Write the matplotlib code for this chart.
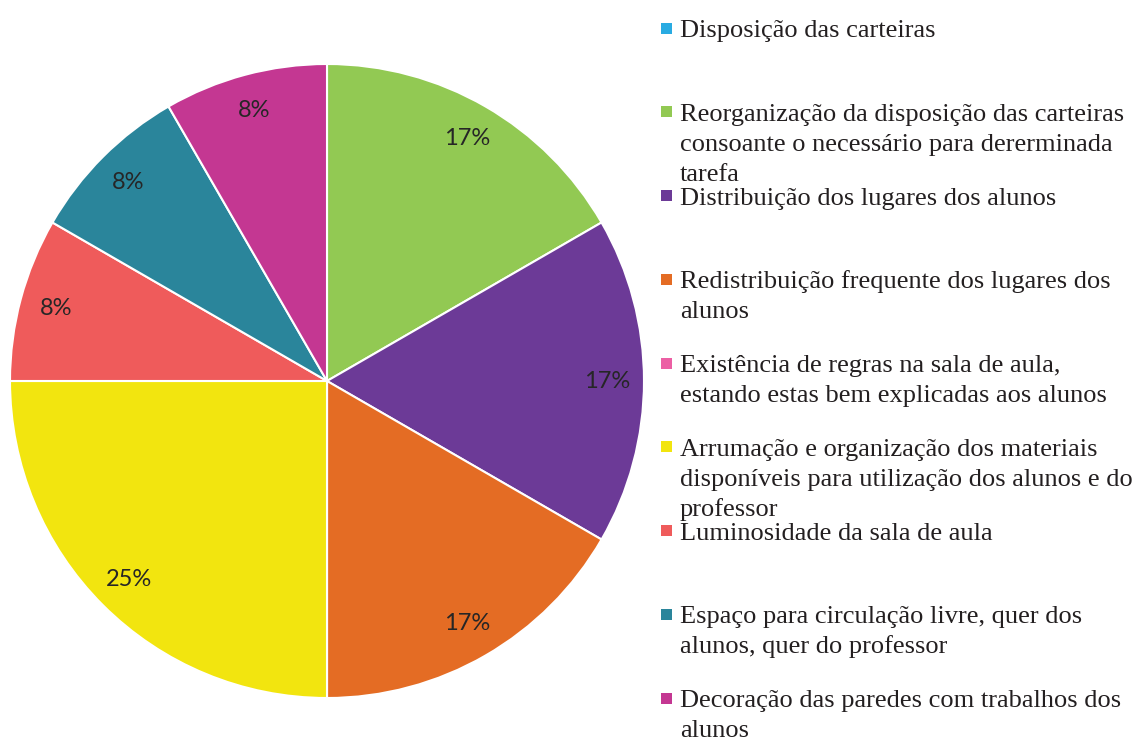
import matplotlib
matplotlib.use("Agg")
import matplotlib.pyplot as plt
from matplotlib.patches import Rectangle
import numpy as np

# ── data ──
categories = [
    "Disposição das carteiras",
    "Reorganização da disposição das carteiras\nconsoante o necessário para dererminada\ntarefa",
    "Distribuição dos lugares dos alunos",
    "Redistribuição frequente dos lugares dos\nalunos",
    "Existência de regras na sala de aula,\nestando estas bem explicadas aos alunos",
    "Arrumação e organização dos materiais\ndisponíveis para utilização dos alunos e do\nprofessor",
    "Luminosidade da sala de aula",
    "Espaço para circulação livre, quer dos\nalunos, quer do professor",
    "Decoração das paredes com trabalhos dos\nalunos",
]
counts = [0, 2, 2, 2, 0, 3, 1, 1, 1]
colors = ["#29ABE2", "#92C953", "#6C3A97", "#E46C24", "#EC5FA4",
          "#F2E50F", "#EF5B5B", "#2A859B", "#C43792"]

W, H = 1139, 740
fig = plt.figure(figsize=(W / 100, H / 100), dpi=100)

# pie: centre (327, 381) px, radius 317 px
cx, cy, r = 327, 381, 317
ax = fig.add_axes([(cx - r) / W, (H - cy - r) / H, 2 * r / W, 2 * r / H])

ax.pie(counts, colors=colors, startangle=90, counterclock=False,
       wedgeprops=dict(edgecolor="white", linewidth=1.5))

# percentage labels (zero slices get none)
total = sum(counts)
ang = 90.0
for c in counts:
    span = 360.0 * c / total
    if c > 0:
        mid = np.deg2rad(ang - span / 2)
        ax.text(0.885 * np.cos(mid), 0.885 * np.sin(mid), f"{100 * c / total:.0f}%",
                ha="center", va="center", fontsize=17, family="Lato", color="#262626")
    ang -= span
ax.set_xlim(-1, 1)
ax.set_ylim(-1, 1)
ax.set_aspect("equal")
ax.axis("off")

# legend drawn by hand (fixed row spacing, as in the reference)
y0, step, line_h = 28, 83.75, 30
for i, (lab, col) in enumerate(zip(categories, colors)):
    yc = y0 + i * step
    fig.patches.append(Rectangle((661 / W, 1 - (yc + 5.5) / H), 11 / W, 11 / H,
                                 transform=fig.transFigure, facecolor=col,
                                 edgecolor="none"))
    for j, line in enumerate(lab.split("\n")):
        fig.text(680 / W, 1 - (yc + 9 + j * line_h) / H, line, ha="left",
                 va="baseline", fontsize=19, family="Liberation Serif",
                 color="#231F20")

fig.savefig("out.png", dpi=100)
